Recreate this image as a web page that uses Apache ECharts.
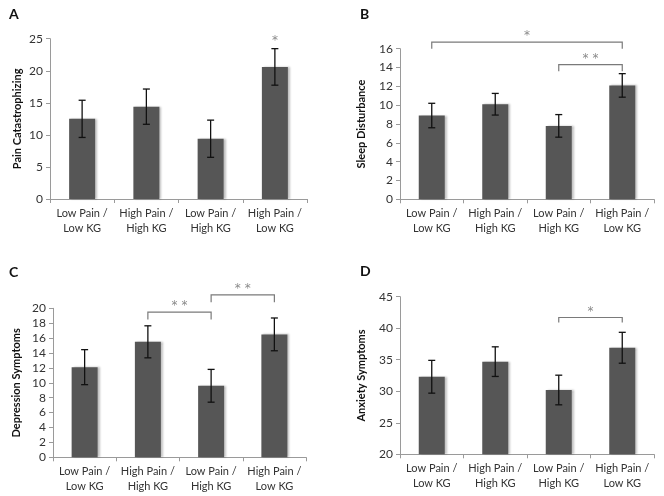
<!DOCTYPE html>
<html><head><meta charset="utf-8">
<script src="https://cdn.jsdelivr.net/npm/echarts@6/dist/echarts.min.js"></script>
<style>html,body{margin:0;padding:0;background:#fff}#c{width:664px;height:496px}</style>
</head><body><div id="c"></div>
<script>
const categories = ['Low Pain /\nLow KG', 'High Pain /\nHigh KG', 'Low Pain /\nHigh KG', 'High Pain /\nLow KG'];
const catastrophizing = [12.5, 14.4, 9.4, 20.6];
const catastrophizingErr = [2.9, 2.75, 2.9, 2.85];
const sleep = [8.9, 10.1, 7.8, 12.1];
const sleepErr = [1.3, 1.15, 1.2, 1.25];
const depression = [12.1, 15.5, 9.6, 16.5];
const depressionErr = [2.35, 2.15, 2.2, 2.2];
const anxiety = [32.3, 34.7, 30.2, 36.9];
const anxietyErr = [2.6, 2.35, 2.35, 2.45];
// brackets: [fromCat, toCat, lineValue, legEndValue, label]
const bracketsA = [];
const starsA = [[3, 24.8, '*']];
const bracketsB = [[0, 3, 16.7, 16.0, '*'], [2, 3, 14.3, 13.6, '**']];
const bracketsC = [[1, 2, 19.5, 18.5, '**'], [2, 3, 21.8, 20.8, '**']];
const bracketsD = [[2, 3, 41.7, 40.9, '*']];
const panelLabels = ['A', 'B', 'C', 'D'];
const yNames = ['Pain Catastrophizing', 'Sleep Disturbance', 'Depression Symptoms', 'Anxiety Symptoms'];
const yRanges = [[0, 25, 5], [0, 16, 2], [0, 20, 2], [20, 45, 5]];

const FONT = 'Lato, "Open Sans", sans-serif';
const STAR_FONT = '"DejaVu Sans", sans-serif';
const grids = [
  {left: 50, right: 357, top: 38.7, bottom: 297},
  {left: 400, right: 10, top: 48.7, bottom: 296.7},
  {left: 53, right: 358, top: 308.3, bottom: 38.7},
  {left: 400, right: 10, top: 296.7, bottom: 41.7}
];
const nameGaps = [27, 33, 31, 33];
const values = [catastrophizing, sleep, depression, anxiety];
const errs = [catastrophizingErr, sleepErr, depressionErr, anxietyErr];
const brackets = [bracketsA, bracketsB, bracketsC, bracketsD];

const xAxis = [], yAxis = [], series = [];
for (let i = 0; i < 4; i++) {
  xAxis.push({
    type: 'category', gridIndex: i, data: categories,
    axisLine: {lineStyle: {color: '#9a9a9a', width: 1}},
    axisTick: {show: true, length: 4, lineStyle: {color: '#9a9a9a'}},
    axisLabel: {color: '#333', fontSize: 11, fontFamily: FONT, lineHeight: 15, margin: 7, interval: 0}
  });
  yAxis.push({
    type: 'value', gridIndex: i, min: yRanges[i][0], max: yRanges[i][1], interval: yRanges[i][2],
    name: yNames[i], nameLocation: 'middle', nameGap: nameGaps[i],
    nameTextStyle: {fontSize: 11, fontWeight: 'bold', color: '#111', fontFamily: FONT},
    axisLine: {show: true, lineStyle: {color: '#9a9a9a'}},
    axisTick: {show: true, length: 4, lineStyle: {color: '#9a9a9a'}},
    axisLabel: {color: '#333', fontSize: 12, fontFamily: FONT, margin: 7},
    splitLine: {show: false}
  });
  series.push({
    type: 'bar', xAxisIndex: i, yAxisIndex: i, data: values[i], barWidth: 26,
    itemStyle: {color: '#565656', shadowColor: 'rgba(0,0,0,0.25)', shadowOffsetX: 2, shadowOffsetY: 0, shadowBlur: 2},
    silent: true
  });
  series.push({
    type: 'custom', xAxisIndex: i, yAxisIndex: i, silent: true, z: 5,
    data: values[i].map((v, k) => [k, v - errs[i][k], v + errs[i][k]]),
    renderItem: function (params, api) {
      const lo = api.coord([api.value(0), api.value(1)]);
      const hi = api.coord([api.value(0), api.value(2)]);
      const w = 3.5;
      const st = {stroke: '#111', lineWidth: 1.3};
      return {type: 'group', children: [
        {type: 'line', shape: {x1: hi[0], y1: hi[1], x2: lo[0], y2: lo[1]}, style: st},
        {type: 'line', shape: {x1: hi[0] - w, y1: hi[1], x2: hi[0] + w, y2: hi[1]}, style: st},
        {type: 'line', shape: {x1: lo[0] - w, y1: lo[1], x2: lo[0] + w, y2: lo[1]}, style: st}
      ]};
    }
  });
  if (brackets[i].length) {
    series.push({
      type: 'custom', xAxisIndex: i, yAxisIndex: i, silent: true, z: 6, clip: false,
      data: brackets[i].map(b => [b[0], b[1], b[2], b[3], b[4]]),
      renderItem: function (params, api) {
        const b = brackets[i][params.dataIndex];
        const a = api.coord([b[0], b[2]]);
        const c = api.coord([b[1], b[2]]);
        const aLeg = api.coord([b[0], b[3]]);
        const st = {stroke: '#7a7a7a', lineWidth: 1.2, fill: null};
        return {type: 'group', children: [
          {type: 'polyline', shape: {points: [[a[0], aLeg[1]], [a[0], a[1]], [c[0], c[1]], [c[0], aLeg[1]]]}, style: st},
          {type: 'text', style: {text: b[4].split('').join(' '), x: (a[0] + c[0]) / 2, y: a[1] - 6, align: 'center', verticalAlign: 'middle', fill: '#8a8a8a', fontSize: 12, fontFamily: STAR_FONT}}
        ]};
      }
    });
  }
}
series.push({
  type: 'custom', xAxisIndex: 0, yAxisIndex: 0, silent: true, z: 6, clip: false,
  data: starsA,
  renderItem: function (params, api) {
    const p = api.coord([api.value(0), api.value(1)]);
    return {type: 'text', style: {text: starsA[params.dataIndex][2], x: p[0], y: p[1] + 1, align: 'center', verticalAlign: 'middle', fill: '#8a8a8a', fontSize: 12, fontFamily: STAR_FONT}};
  }
});

const labelPos = [[14, 15], [365, 15], [14, 273], [365, 272]];
const graphic = panelLabels.map((t, k) => ({
  type: 'text', left: labelPos[k][0] - 5, top: labelPos[k][1] - 8,
  style: {text: t, fontSize: 14, fontWeight: 'bold', fill: '#111', fontFamily: FONT}
}));

const chart = echarts.init(document.getElementById('c'), null, {renderer: 'canvas'});
chart.setOption({
  animation: false, backgroundColor: '#fff',
  grid: grids, xAxis: xAxis, yAxis: yAxis, series: series, graphic: graphic
});
</script></body></html>
